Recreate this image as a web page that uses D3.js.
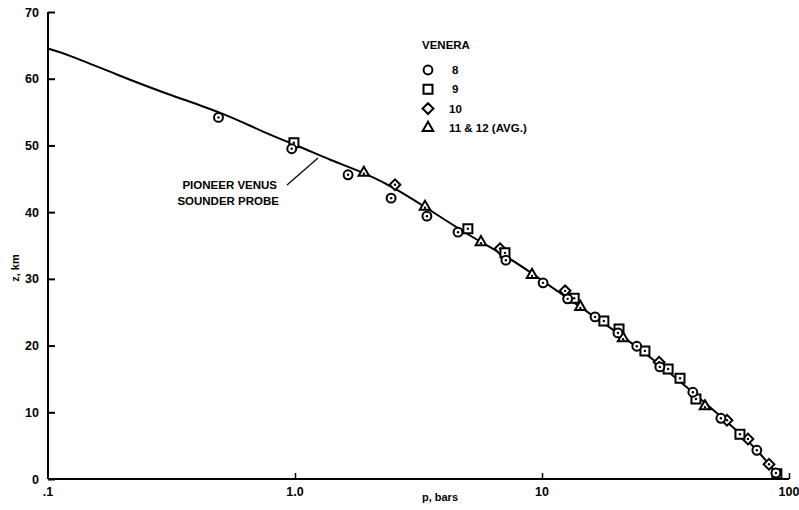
<!DOCTYPE html>
<html>
<meta charset="utf-8">
<head>
    <script src="https://d3js.org/d3.v7.min.js"></script>
    <style>
        body { margin: 0; background: #fff; }
        text { font-family: "Liberation Sans", Arial, sans-serif; fill: #000; }
    </style>
</head>
<body>
    <script>
        var width = 799,
            height = 510;

        // pioneer venus sounder probe profile
        var curveP = [0.1, 0.119, 0.19, 0.303, 0.511, 0.742, 1.05, 1.386, 1.92, 2.66, 3.52, 5.11, 7.42, 9.81, 14.25, 20.7, 30.0, 43.6, 63.3, 76.3, 91.1];
        var curveZ = [64.5, 63.7, 60.6, 57.7, 54.9, 52.0, 49.8, 47.8, 45.9, 43.2, 40.3, 36.4, 33.1, 30.0, 25.8, 21.7, 17.2, 12.1, 6.9, 3.9, 0.45];

        // venera 8 (circles)
        var v8P = [0.49, 0.97, 1.64, 2.45, 3.42, 4.57, 7.14, 10.1, 12.7, 16.4, 20.3, 24.2, 30.0, 40.8, 53.0, 74.1, 88.5];
        var v8Z = [54.2, 49.5, 45.6, 42.1, 39.4, 37.0, 32.8, 29.4, 27.0, 24.3, 21.9, 19.9, 16.8, 13.0, 9.1, 4.3, 0.9];

        // venera 9 (squares)
        var v9P = [0.99, 5.01, 7.08, 13.5, 17.8, 20.5, 26.1, 32.4, 36.2, 42.0, 63.3, 89.3];
        var v9Z = [50.4, 37.5, 33.9, 27.1, 23.7, 22.5, 19.2, 16.5, 15.1, 12.0, 6.7, 0.8];

        // venera 10 (diamonds)
        var v10P = [2.54, 6.76, 12.4, 29.8, 56.1, 68.2, 83.0];
        var v10Z = [44.1, 34.5, 28.2, 17.5, 8.8, 6.0, 2.2];

        // venera 11 & 12 avg (triangles)
        var v11P = [1.90, 3.36, 5.66, 9.11, 14.3, 21.3, 45.7];
        var v11Z = [45.9, 40.8, 35.5, 30.6, 25.8, 21.1, 10.9];

        var xTicks = [0.1, 1, 10, 100];
        var xTickLabels = [".1", "1.0", "10", "100"];
        var yTicks = [0, 10, 20, 30, 40, 50, 60, 70];

        var legendLabels = ["8", "9", "10", "11 & 12 (AVG.)"];

        var x = d3.scaleLog().domain([0.1, 100]).range([48, 789]);
        var y = d3.scaleLinear().domain([0, 70]).range([479, 12]);

        var svg = d3.select("body").append("svg")
            .attr("width", width)
            .attr("height", height);

        // axes
        var yAxis = d3.axisRight(y).tickValues(yTicks).tickSize(7).tickFormat("");
        svg.append("g")
            .attr("transform", "translate(48,0)")
            .call(yAxis)
            .call(function(g) {
                g.select(".domain").attr("stroke-width", 2).attr("d", "M0,12V479");
                g.selectAll(".tick line").attr("stroke-width", 2);
            });

        svg.selectAll(".ylab")
            .data(yTicks)
            .enter()
            .append("text")
            .attr("class", "ylab")
            .attr("x", 39)
            .attr("y", function(d) { return y(d) + 4.5; })
            .attr("text-anchor", "end")
            .attr("font-size", 12.5)
            .attr("font-weight", "bold")
            .text(function(d) { return d; });

        var xAxis = d3.axisTop(x).tickValues(xTicks.slice(1)).tickSize(6).tickFormat("");
        svg.append("g")
            .attr("transform", "translate(0,479)")
            .call(xAxis)
            .call(function(g) {
                g.select(".domain").attr("stroke-width", 2).attr("d", "M48,0H789");
                g.selectAll(".tick line").attr("stroke-width", 1.5);
            });

        svg.selectAll(".xlab")
            .data(xTicks)
            .enter()
            .append("text")
            .attr("class", "xlab")
            .attr("x", function(d) { return x(d); })
            .attr("y", 496)
            .attr("text-anchor", "middle")
            .attr("font-size", 12.5)
            .attr("font-weight", "bold")
            .text(function(d, i) { return xTickLabels[i]; });

        svg.append("text")
            .attr("x", 440)
            .attr("y", 501)
            .attr("text-anchor", "middle")
            .attr("font-size", 11)
            .attr("font-weight", "bold")
            .text("p, bars");

        svg.append("text")
            .attr("transform", "translate(19,268) rotate(-90)")
            .attr("text-anchor", "middle")
            .attr("font-size", 11)
            .attr("font-weight", "bold")
            .text("z, km");

        // the curve
        var line = d3.line()
            .x(function(d) { return x(d[0]); })
            .y(function(d) { return y(d[1]); })
            .curve(d3.curveBasis);

        svg.append("path")
            .datum(d3.zip(curveP, curveZ))
            .attr("d", line)
            .attr("fill", "none")
            .attr("stroke", "#000")
            .attr("stroke-width", 2);

        // markers
        var shapes = {
            circle: d3.symbol().type(d3.symbolCircle).size(62),
            square: d3.symbol().type(d3.symbolSquare).size(81),
            diamond: d3.symbol().type(d3.symbolSquare).size(58),
            triangle: d3.symbol().type(d3.symbolTriangle).size(48)
        };

        function drawSet(ps, zs, kind) {
            var g = svg.append("g");
            var pts = d3.zip(ps, zs);
            g.selectAll("path")
                .data(pts)
                .enter()
                .append("path")
                .attr("d", shapes[kind]())
                .attr("transform", function(d) {
                    return "translate(" + x(d[0]) + "," + y(d[1]) + ")" + (kind == "diamond" ? " rotate(45)" : "");
                })
                .attr("fill", "#fff")
                .attr("stroke", "#000")
                .attr("stroke-width", 2);
            g.selectAll("circle")
                .data(pts)
                .enter()
                .append("circle")
                .attr("cx", function(d) { return x(d[0]); })
                .attr("cy", function(d) { return y(d[1]) + (kind == "triangle" ? 1 : 0); })
                .attr("r", 1.2)
                .attr("fill", "#000");
        }

        drawSet(v10P, v10Z, "diamond");
        drawSet(v9P, v9Z, "square");
        drawSet(v11P, v11Z, "triangle");
        drawSet(v8P, v8Z, "circle");

        // leader and label
        svg.append("line")
            .attr("x1", 287).attr("y1", 185)
            .attr("x2", 318).attr("y2", 158)
            .attr("stroke", "#000")
            .attr("stroke-width", 1.2);

        svg.append("text")
            .attr("x", 277).attr("y", 189)
            .attr("text-anchor", "end")
            .attr("font-size", 11.5)
            .attr("font-weight", "bold")
            .text("PIONEER VENUS");
        svg.append("text")
            .attr("x", 279).attr("y", 205)
            .attr("text-anchor", "end")
            .attr("font-size", 11.5)
            .attr("font-weight", "bold")
            .text("SOUNDER PROBE");

        // legend
        svg.append("text")
            .attr("x", 422).attr("y", 49)
            .attr("font-size", 11.5)
            .attr("font-weight", "bold")
            .text("VENERA");

        var kinds = ["circle", "square", "diamond", "triangle"];
        var legend = svg.selectAll(".leg")
            .data(kinds)
            .enter()
            .append("g")
            .attr("class", "leg")
            .attr("transform", function(d, i) { return "translate(428," + (70 + i * 19.3) + ")"; });

        legend.append("path")
            .attr("d", function(d) { return shapes[d](); })
            .attr("transform", function(d) { return d == "diamond" ? "rotate(45)" : ""; })
            .attr("fill", "#fff")
            .attr("stroke", "#000")
            .attr("stroke-width", 2);

        legend.append("text")
            .attr("x", function(d, i) { return i < 2 ? 24 : 21; })
            .attr("y", 4)
            .attr("font-size", 11.5)
            .attr("font-weight", "bold")
            .text(function(d, i) { return legendLabels[i]; });
    </script>
</body>
</html>
